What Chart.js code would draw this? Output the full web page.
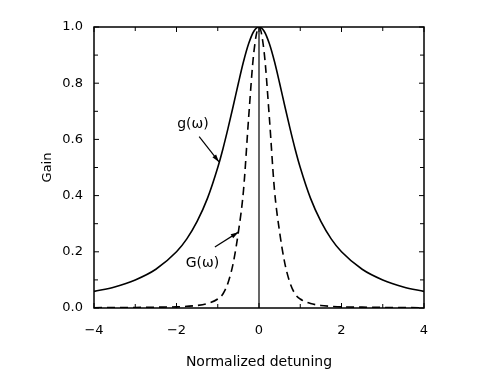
<!DOCTYPE html>
<html>
<head>
<meta charset="utf-8">
<script src="https://cdn.jsdelivr.net/npm/chart.js@4.4.0/dist/chart.umd.min.js"></script>
<style>
  html, body { margin: 0; padding: 0; background: #fff; }
  #wrap { width: 487px; height: 377px; }
</style>
</head>
<body>
<div id="wrap"><canvas id="mycanvas" width="487" height="377"></canvas></div>
<script>
// detuning values (x) shared by both curves
var detuning = [-4, -3.5, -3, -2.5, -2, -1.75, -1.5, -1.25, -1, -0.875, -0.75, -0.625, -0.5, -0.375, -0.25, -0.125,
                0, 0.125, 0.25, 0.375, 0.5, 0.625, 0.75, 0.875, 1, 1.25, 1.5, 1.75, 2, 2.5, 3, 3.5, 4];
// g(w) solid curve
var gainSmall = [0.059, 0.075, 0.10, 0.138, 0.20, 0.246, 0.308, 0.39, 0.50, 0.566, 0.64, 0.719, 0.80, 0.877, 0.941, 0.985,
                 1.0, 0.985, 0.941, 0.877, 0.80, 0.719, 0.64, 0.566, 0.50, 0.39, 0.308, 0.246, 0.20, 0.138, 0.10, 0.075, 0.059];
// G(w) dashed curve
var gainBig = [0.001, 0.0015, 0.002, 0.003, 0.004, 0.006, 0.009, 0.016, 0.032, 0.05, 0.09, 0.16, 0.27, 0.42, 0.68, 0.91,
               1.0, 0.91, 0.68, 0.42, 0.27, 0.16, 0.09, 0.05, 0.032, 0.016, 0.009, 0.006, 0.004, 0.003, 0.002, 0.0015, 0.001];
// vertical line at zero detuning
var centerX = [0, 0];
var centerY = [0, 1];

var xTicks = [-4, -2, 0, 2, 4];
var xTickLabels = ['\u22124', '\u22122', '0', '2', '4'];
var yTicks = [0, 0.2, 0.4, 0.6, 0.8, 1.0];
var yTickLabels = ['0.0', '0.2', '0.4', '0.6', '0.8', '1.0'];

function pts(xs, ys) {
  var out = [];
  for (var i in xs) out.push({x: xs[i], y: ys[i]});
  return out;
}

var FONT = '"DejaVu Sans", sans-serif';

// inward ticks, frame and the two labels with arrows
var framePlugin = {
  id: 'frame',
  afterDraw: function(chart) {
    var ctx = chart.ctx, a = chart.chartArea;
    var xs = chart.scales.x, ys = chart.scales.y;
    ctx.save();
    ctx.strokeStyle = '#000';
    ctx.lineWidth = 1.5;
    ctx.strokeRect(a.left, a.top, a.right - a.left, a.bottom - a.top);
    ctx.lineWidth = 1;
    ctx.beginPath();
    for (var i = 0; i < xTicks.length; i++) {
      var px = xs.getPixelForValue(xTicks[i]);
      ctx.moveTo(px, a.bottom); ctx.lineTo(px, a.bottom - 5);
      ctx.moveTo(px, a.top); ctx.lineTo(px, a.top + 5);
      if (i < xTicks.length - 1) {
        var mx = xs.getPixelForValue((xTicks[i] + xTicks[i + 1]) / 2);
        ctx.moveTo(mx, a.bottom); ctx.lineTo(mx, a.bottom - 4);
        ctx.moveTo(mx, a.top); ctx.lineTo(mx, a.top + 4);
      }
    }
    for (var j = 0; j < yTicks.length; j++) {
      var py = ys.getPixelForValue(yTicks[j]);
      ctx.moveTo(a.left, py); ctx.lineTo(a.left + 5, py);
      ctx.moveTo(a.right, py); ctx.lineTo(a.right - 5, py);
      if (j < yTicks.length - 1) {
        var my = ys.getPixelForValue((yTicks[j] + yTicks[j + 1]) / 2);
        ctx.moveTo(a.left, my); ctx.lineTo(a.left + 4, my);
        ctx.moveTo(a.right, my); ctx.lineTo(a.right - 4, my);
      }
    }
    ctx.stroke();

    function arrow(x0, y0, x1, y1) {
      var p0x = xs.getPixelForValue(x0), p0y = ys.getPixelForValue(y0);
      var p1x = xs.getPixelForValue(x1), p1y = ys.getPixelForValue(y1);
      var ang = Math.atan2(p1y - p0y, p1x - p0x);
      ctx.lineWidth = 1.2;
      ctx.beginPath();
      ctx.moveTo(p0x, p0y); ctx.lineTo(p1x, p1y);
      ctx.stroke();
      ctx.beginPath();
      ctx.moveTo(p1x, p1y);
      ctx.lineTo(p1x - 8 * Math.cos(ang - 0.3), p1y - 8 * Math.sin(ang - 0.3));
      ctx.lineTo(p1x - 8 * Math.cos(ang + 0.3), p1y - 8 * Math.sin(ang + 0.3));
      ctx.closePath();
      ctx.fill();
    }
    ctx.fillStyle = '#000';
    ctx.font = '14px ' + FONT;
    ctx.textAlign = 'center';
    ctx.textBaseline = 'middle';
    ctx.fillText('g(\u03c9)', xs.getPixelForValue(-1.6), ys.getPixelForValue(0.655));
    arrow(-1.45, 0.61, -0.97, 0.52);
    ctx.fillText('G(\u03c9)', xs.getPixelForValue(-1.37), ys.getPixelForValue(0.16));
    arrow(-1.07, 0.217, -0.5, 0.27);
    ctx.restore();
  }
};

var ctx = document.getElementById('mycanvas');
var myChart = new Chart(ctx, {
  type: 'line',
  data: {
    datasets: [{
      label: 'g',
      data: pts(detuning, gainSmall),
      borderColor: '#000',
      borderWidth: 1.6,
      pointRadius: 0,
      cubicInterpolationMode: 'monotone'
    }, {
      label: 'G',
      data: pts(detuning, gainBig),
      borderColor: '#000',
      borderWidth: 1.6,
      borderDash: [8, 5],
      pointRadius: 0,
      cubicInterpolationMode: 'monotone'
    }, {
      label: 'center',
      data: pts(centerX, centerY),
      borderColor: '#000',
      borderWidth: 1.2,
      pointRadius: 0
    }]
  },
  options: {
    responsive: false,
    animation: false,
    layout: { padding: { left: 30, top: 27, right: 63, bottom: 0 } },
    plugins: { legend: { display: false }, tooltip: { enabled: false } },
    scales: {
      x: {
        type: 'linear',
        min: -4, max: 4,
        afterFit: function(s) { s.height = 69; },
        afterBuildTicks: function(s) { s.ticks = xTicks.map(function(v) { return {value: v}; }); },
        grid: { display: false, drawTicks: false },
        border: { display: false },
        ticks: {
          padding: 15,
          color: '#000',
          font: { family: FONT, size: 13 },
          callback: function(v) { return xTickLabels[xTicks.indexOf(v)]; }
        },
        title: {
          display: true,
          text: 'Normalized detuning',
          color: '#000',
          font: { family: FONT, size: 14 },
          padding: { top: 0, bottom: 6 }
        }
      },
      y: {
        min: 0, max: 1,
        afterFit: function(s) { s.width = 64; },
        afterBuildTicks: function(s) { s.ticks = yTicks.map(function(v) { return {value: v}; }); },
        grid: { display: false, drawTicks: false },
        border: { display: false },
        ticks: {
          padding: 11,
          color: '#000',
          font: { family: FONT, size: 13 },
          callback: function(v) { return yTickLabels[yTicks.indexOf(v)]; }
        },
        title: {
          display: true,
          text: 'Gain',
          color: '#000',
          font: { family: FONT, size: 13 },
          padding: { top: 10, bottom: 0 }
        }
      }
    }
  },
  plugins: [framePlugin]
});
</script>
</body>
</html>
